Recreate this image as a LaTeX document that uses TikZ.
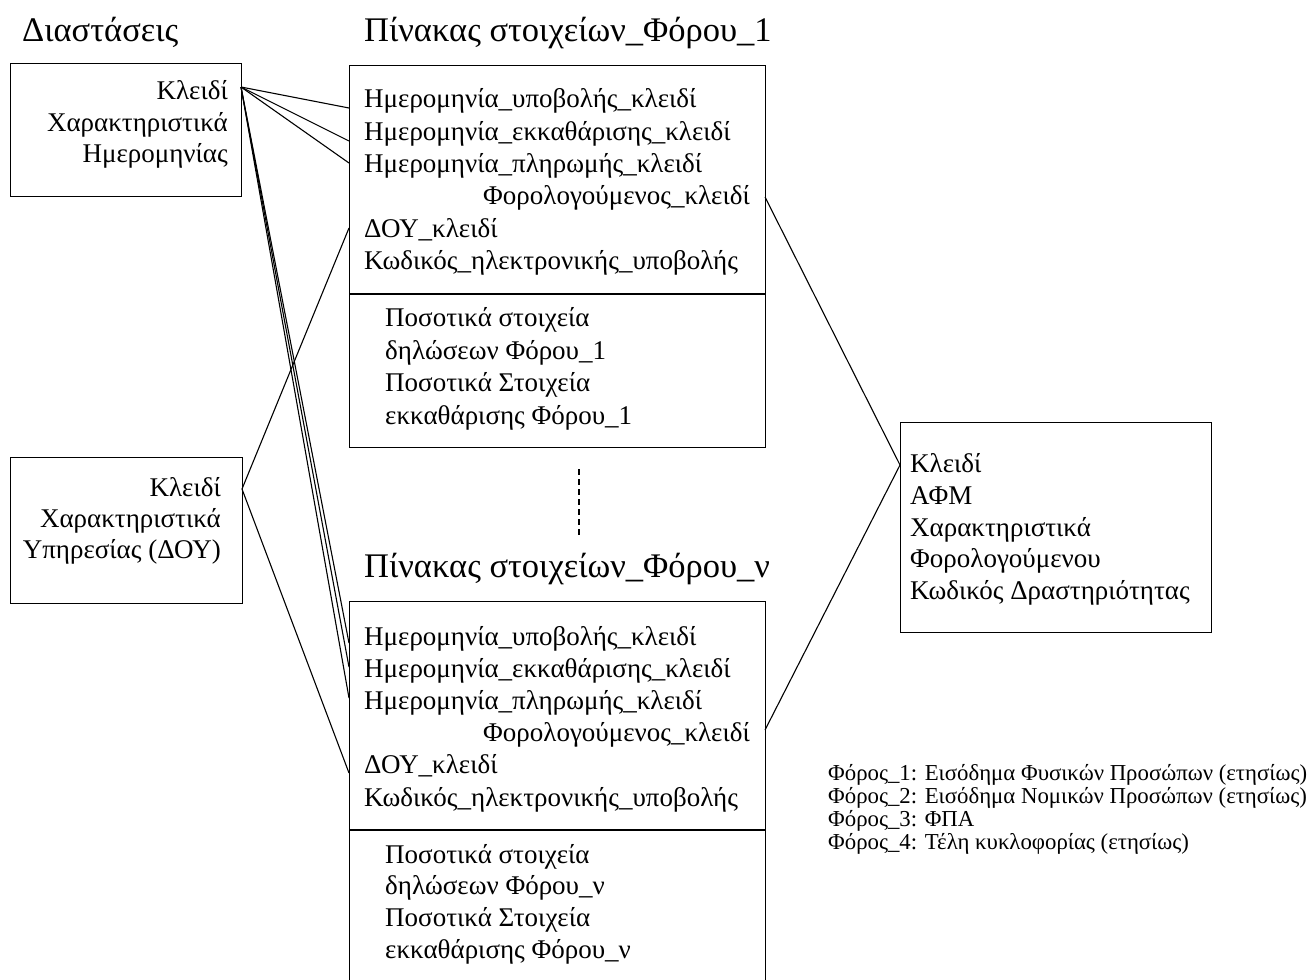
\documentclass[tikz,border=0pt]{standalone}
\usepackage{fontspec}
\setmainfont{Liberation Serif}
\begin{document}
\begin{tikzpicture}[x=1pt,y=-1pt,
  box/.style={draw, line width=1.3pt, inner sep=0, anchor=north west},
  link/.style={line width=1.1pt},
  body/.style={inner sep=0, font=\fontsize{27}{32}\selectfont},
  bw/.style={body, anchor=base west},
  be/.style={body, anchor=base east},
  ttl/.style={inner sep=0, anchor=base west, font=\fontsize{34.5}{40}\selectfont},
  leg/.style={inner sep=0, anchor=base west, font=\fontsize{22.8}{23}\selectfont}]
\useasboundingbox (0,0) rectangle (1313,979);
\clip (0,0) rectangle (1313,979);

% titles
\node[ttl] (dimtitle) at (22,42) {Διαστάσεις};
\node[ttl] (t1title) at (364,42) {Πίνακας στοιχείων\_Φόρου\_1};
\node[ttl] (tntitle) at (364,577) {Πίνακας στοιχείων\_Φόρου\_ν};

% dimension: date
\node[box, minimum width=231pt, minimum height=133pt] (dimdate) at (10,63) {};
\node[be] (dd1) at (228,100) {Κλειδί};
\node[be] (dd2) at (228,131.5) {Χαρακτηριστικά};
\node[be] (dd3) at (228,162.5) {Ημερομηνίας};
\coordinate (ddkey) at (241,87);

% dimension: tax office
\node[box, minimum width=232pt, minimum height=146pt] (dimdoy) at (10,457) {};
\node[be] (do1) at (221,496) {Κλειδί};
\node[be] (do2) at (221,527) {Χαρακτηριστικά};
\node[be] (do3) at (221,558) {Υπηρεσίας (ΔΟΥ)};
\coordinate (dokey) at (242,489);

% fact table, tax 1
\node[box, minimum width=416pt, minimum height=382pt] (tone) at (349,65) {};
\draw[line width=1.3pt] (349,294) coordinate (toned) -- (765,294) coordinate (tonee);
\node[bw] (ta1) at (364,108) {Ημερομηνία\_υποβολής\_κλειδί};
\node[bw] (ta2) at (364,140.5) {Ημερομηνία\_εκκαθάρισης\_κλειδί};
\node[bw] (ta3) at (364,172.5) {Ημερομηνία\_πληρωμής\_κλειδί};
\node[be] (ta4) at (750,204) {Φορολογούμενος\_κλειδί};
\node[bw] (ta5) at (364,237) {ΔΟΥ\_κλειδί};
\node[bw] (ta6) at (364,269) {Κωδικός\_ηλεκτρονικής\_υποβολής};
\node[bw] (tb1) at (385,326.5) {Ποσοτικά στοιχεία};
\node[bw] (tb2) at (385,359) {δηλώσεων Φόρου\_1};
\node[bw] (tb3) at (385,391.5) {Ποσοτικά Στοιχεία};
\node[bw] (tb4) at (385,424.5) {εκκαθάρισης Φόρου\_1};

% fact table, tax n
\node[box, minimum width=416pt, minimum height=420pt] (tn) at (349,601) {};
\draw[line width=1.3pt] (349,830) coordinate (tnd) -- (765,830) coordinate (tne);
\node[bw] (na1) at (364,645) {Ημερομηνία\_υποβολής\_κλειδί};
\node[bw] (na2) at (364,677) {Ημερομηνία\_εκκαθάρισης\_κλειδί};
\node[bw] (na3) at (364,709) {Ημερομηνία\_πληρωμής\_κλειδί};
\node[be] (na4) at (750,741.5) {Φορολογούμενος\_κλειδί};
\node[bw] (na5) at (364,773.5) {ΔΟΥ\_κλειδί};
\node[bw] (na6) at (364,806.5) {Κωδικός\_ηλεκτρονικής\_υποβολής};
\node[bw] (nb1) at (385,863) {Ποσοτικά στοιχεία};
\node[bw] (nb2) at (385,894) {δηλώσεων Φόρου\_ν};
\node[bw] (nb3) at (385,926.5) {Ποσοτικά Στοιχεία};
\node[bw] (nb4) at (385,958) {εκκαθάρισης Φόρου\_ν};

% dimension: taxpayer
\node[box, minimum width=311pt, minimum height=210pt] (tax) at (900,422) {};
\node[bw] (tx1) at (910,472) {Κλειδί};
\node[bw] (tx2) at (910,504) {ΑΦΜ};
\node[bw] (tx3) at (910,536) {Χαρακτηριστικά};
\node[bw] (tx4) at (910,567) {Φορολογούμενου};
\node[bw] (tx5) at (910,599) {Κωδικός Δραστηριότητας};
\coordinate (txkey) at (900,465);

% attachment points on the fact tables
\coordinate (a1) at (349,108);
\coordinate (a2) at (349,141);
\coordinate (a3) at (349,163);
\coordinate (a5) at (349,228);
\coordinate (a4) at (765,197);
\coordinate (n1) at (349,643);
\coordinate (n2) at (349,667);
\coordinate (n3) at (349,698);
\coordinate (n5) at (349,773);
\coordinate (n4) at (765,730);

% links
\foreach \p in {a1,a2,a3,n1,n2,n3} \draw[link] (ddkey) -- (\p);
\foreach \p in {a5,n5} \draw[link] (dokey) -- (\p);
\foreach \p in {a4,n4} \draw[link] (txkey) -- (\p);

% ellipsis between the tables
\coordinate (dots1) at (579,469);
\coordinate (dots2) at (579,536);
\draw[line width=1.1pt, dash pattern=on 6pt off 4pt] (dots1) -- (dots2);

% legend
\node[leg] (lg1) at (828,780) {Φόρος\_1: Εισόδημα Φυσικών Προσώπων (ετησίως)};
\node[leg] (lg2) at (828,803) {Φόρος\_2: Εισόδημα Νομικών Προσώπων (ετησίως)};
\node[leg] (lg3) at (828,826) {Φόρος\_3: ΦΠΑ};
\node[leg] (lg4) at (828,849) {Φόρος\_4: Τέλη κυκλοφορίας (ετησίως)};
\end{tikzpicture}
\end{document}
